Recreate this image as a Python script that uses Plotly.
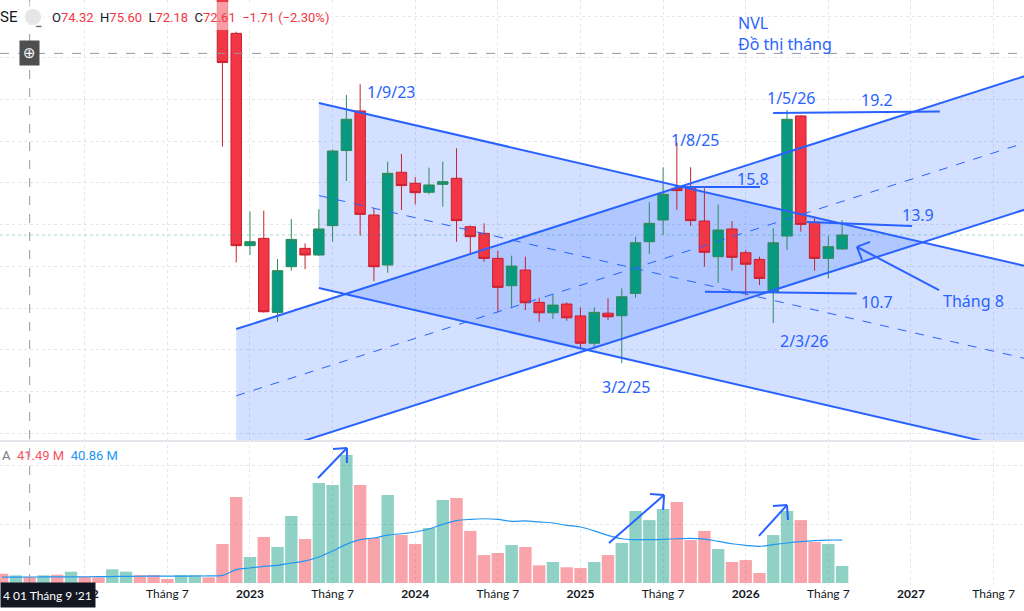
import plotly.graph_objects as go
import pandas as pd

# monthly bars, NVL
months = pd.period_range("2021-07", "2026-08", freq="M").strftime("%Y-%m").tolist()


def mi(m):
    # month label -> bar index (2021-07 = 0)
    y, mo = map(int, m.split("-"))
    return (y - 2021) * 12 + (mo - 7)


idx = [mi(m) for m in months]

first_candle = "2022-11"
opens = [34.00, 23.17, 12.99, 13.34, 9.79, 11.98, 12.86, 12.54, 13.95, 17.55, 19.45, 14.46,
         12.06, 16.51, 15.98, 15.55, 15.93, 16.22, 13.90, 13.58, 12.38, 11.07, 11.82, 10.27,
         9.77, 10.19, 9.62, 8.31, 9.75, 9.63, 10.70, 13.18, 14.22, 15.74, 15.82, 14.17,
         12.46, 13.79, 12.65, 12.33, 10.76, 13.45, 19.21, 14.11, 12.38, 12.83]
highs = [35.00, 23.25, 14.62, 14.67, 12.35, 14.27, 13.10, 14.73, 17.60, 20.22, 20.73, 14.78,
         17.02, 17.39, 16.27, 16.73, 17.02, 17.66, 13.95, 14.06, 12.75, 12.51, 12.46, 10.49,
         10.67, 10.27, 10.03, 10.03, 10.47, 10.94, 13.42, 15.07, 16.75, 17.93, 16.75, 15.74,
         14.97, 14.17, 12.78, 12.46, 13.82, 19.50, 19.25, 14.38, 13.45, 14.22]
lows = [17.74, 12.19, 12.54, 9.78, 9.34, 11.79, 11.86, 12.50, 13.18, 16.09, 13.47, 11.29,
        11.69, 14.70, 14.97, 15.45, 14.86, 13.18, 12.59, 12.22, 9.82, 10.06, 9.90, 9.34,
        9.47, 9.39, 8.07, 8.14, 9.42, 7.35, 10.49, 12.59, 13.50, 14.70, 13.93, 11.98,
        11.21, 11.79, 10.62, 11.10, 9.28, 12.78, 13.66, 11.79, 11.42, 12.80]
closes = [21.77, 12.99, 13.18, 9.82, 11.79, 13.29, 12.54, 13.79, 17.53, 19.05, 14.49, 11.98,
          16.46, 15.87, 15.53, 15.90, 16.06, 14.19, 13.42, 12.38, 10.99, 12.01, 10.25, 9.77,
          10.14, 9.53, 8.31, 9.79, 9.58, 10.54, 13.13, 14.06, 15.45, 15.63, 14.19, 12.67,
          13.74, 12.43, 12.10, 11.42, 13.13, 19.05, 14.01, 12.38, 12.94, 13.50]
candle_x = idx[mi(first_candle):]

# volume in millions of shares, one per month
volume = [63, 52, 41.49, 52, 56, 77, 43, 39, 93, 77, 54, 54, 27, 54, 54, 39,
          265, 585, 177, 313, 245, 456, 299, 680, 666, 870, 666, 306, 598, 326,
          265, 374, 564, 578, 354, 190, 204, 258, 245, 120, 143, 107, 102, 143,
          190, 272, 490, 428, 503, 551, 292, 354, 231, 143, 156, 68, 326, 490,
          428, 279, 265, 116]
vol_ma = [40, 40.5, 40.86, 41, 41.5, 42, 42.5, 43, 44, 45, 46, 46.5, 47, 47, 47.5, 48,
          52, 91, 102, 113, 120, 136, 150, 177, 218, 263, 295, 306, 326, 335,
          347, 367, 399, 424, 433, 437, 433, 419, 422, 415, 408, 392, 381, 354,
          324, 301, 295, 295, 297, 301, 304, 299, 283, 267, 256, 249, 261, 272,
          281, 288, 292, 292]
vol_up = [0, 1, 0, 1, 0, 1, 0, 0, 1, 1, 0, 0, 0, 1, 1, 0,
          0, 0, 1, 0, 1, 1, 0, 1, 1, 1, 0, 0, 1, 0,
          0, 1, 1, 0, 0, 0, 0, 1, 0, 0, 1, 0, 0, 1,
          0, 1, 1, 1, 1, 0, 0, 0, 1, 0, 0, 0, 1, 1,
          0, 0, 1, 1]

tick_months = ["2022-01", "2022-07", "2023-01", "2023-07", "2024-01", "2024-07",
               "2025-01", "2025-07", "2026-01", "2026-07", "2027-01", "2027-07"]
tick_text = ["<b>2022</b>", "Tháng 7", "<b>2023</b>", "Tháng 7", "<b>2024</b>", "Tháng 7",
             "<b>2025</b>", "Tháng 7", "<b>2026</b>", "Tháng 7", "<b>2027</b>", "Tháng 7"]

# drawings: channels given by start/end on the upper line plus height
desc_x = [23, 61]
desc_top = [19.83, 14.04]
desc_h = 8.87
asc_x = [17, 56]
asc_top = [8.99, 17.25]
asc_h = 6.4
extend_to = 76

# horizontal level lines (x0, p0, x1, p1)
level_x0 = [48.86, 55.99, 58.45, 51.04]
level_p0 = [15.80, 19.35, 14.12, 10.78]
level_x1 = [55.04, 68.10, 66.08, 62.06]
level_p1 = [15.80, 19.42, 13.93, 10.70]

labels = ["1/9/23", "1/8/25", "15.8", "1/5/26", "19.2", "13.9", "10.7", "Tháng 8", "2/3/26", "3/2/25"]
label_x = [28.24, 50.32, 54.53, 57.29, 63.53, 66.51, 63.53, 70.54, 58.27, 45.31]
label_p = [20.36, 18.06, 16.19, 20.07, 19.98, 14.46, 10.29, 10.34, 8.42, 6.21]

# arrow to "Tháng 8": tail, tip, two head ends
ptr_x = [68.04, 62.08, 63.03, 62.45]
ptr_p = [10.86, 12.93, 13.17, 12.30]

# hand-drawn arrows on volume: tail, tip, left head end, lower head end
varrow_x = [[22.94, 25.04, 24.03, 25.04], [44.07, 48.07, 47.05, 48.00], [54.96, 57.00, 55.98, 57.07]]
varrow_v = [[714, 918, 911, 816], [272, 598, 605, 496], [320, 530, 524, 428]]

cross_month = "2021-09"
cross_price = 22.21

BLUE = "#2962FF"
FILL = "rgba(41,98,255,0.2)"
GRID = "#e4e6ec"
PLOT_H = 585  # plot area height in px


def py(px):
    # pixel row -> paper y
    return (PLOT_H - px) / PLOT_H


fig = go.Figure()
shapes = []


def add_channel(xs, tops, h):
    slope = (tops[1] - tops[0]) / (xs[1] - xs[0])
    xe = extend_to
    te = tops[0] + slope * (xe - xs[0])
    path = "M %g,%g L %g,%g L %g,%g L %g,%g Z" % (xs[0], tops[0], xe, te, xe, te - h, xs[0], tops[0] - h)
    shapes.append(dict(type="path", xref="x", yref="y", path=path, fillcolor=FILL,
                       line=dict(width=0), layer="between"))
    for off, dash, w in [(0, "solid", 2), (h, "solid", 2), (h / 2, "dash", 1)]:
        fig.add_trace(go.Scatter(x=[xs[0], xe], y=[tops[0] - off, te - off], mode="lines",
                                 line=dict(color=BLUE, width=w, dash=dash), hoverinfo="skip"))


add_channel(desc_x, desc_top, desc_h)
add_channel(asc_x, asc_top, asc_h)

fig.add_trace(go.Candlestick(
    x=candle_x, open=opens, high=highs, low=lows, close=closes,
    increasing=dict(line=dict(color="#2f8a5c", width=1), fillcolor="#089981"),
    decreasing=dict(line=dict(color="#c9202f", width=1), fillcolor="#F23645"),
    whiskerwidth=0, xaxis="x", yaxis="y"))

fig.add_trace(go.Bar(
    x=idx, y=volume, xaxis="x", yaxis="y2",
    marker=dict(color=["rgba(8,153,129,0.45)" if u else "rgba(242,54,69,0.45)" for u in vol_up],
                line=dict(width=0))))
fig.add_trace(go.Scatter(x=idx, y=vol_ma, mode="lines", xaxis="x", yaxis="y2",
                         line=dict(color="#2196F3", width=1.2, shape="spline")))

for x0, p0, x1, p1 in zip(level_x0, level_p0, level_x1, level_p1):
    shapes.append(dict(type="line", xref="x", yref="y", x0=x0, y0=p0, x1=x1, y1=p1,
                       line=dict(color=BLUE, width=2)))
for a, b in [(0, 1), (1, 2), (1, 3)]:
    shapes.append(dict(type="line", xref="x", yref="y", x0=ptr_x[a], y0=ptr_p[a], x1=ptr_x[b], y1=ptr_p[b],
                       line=dict(color=BLUE, width=2)))
for ax, av in zip(varrow_x, varrow_v):
    for a, b in [(0, 1), (1, 2), (1, 3)]:
        shapes.append(dict(type="line", xref="x", yref="y2", x0=ax[a], y0=av[a], x1=ax[b], y1=av[b],
                           line=dict(color=BLUE, width=2)))

# crosshair
shapes.append(dict(type="line", xref="x", yref="paper", x0=mi(cross_month), x1=mi(cross_month),
                   y0=py(583), y1=1, line=dict(color="#9598a1", width=1, dash="dash")))
shapes.append(dict(type="line", xref="paper", yref="y", x0=0, x1=1, y0=cross_price, y1=cross_price,
                   line=dict(color="#9598a1", width=1, dash="dash")))
# last price line
shapes.append(dict(type="line", xref="paper", yref="y", x0=0, x1=1, y0=closes[-1], y1=closes[-1],
                   line=dict(color="rgba(8,153,129,0.35)", width=1, dash="dot")))
# pane separator
shapes.append(dict(type="line", xref="paper", yref="paper", x0=0, x1=1, y0=py(441), y1=py(441),
                   line=dict(color=GRID, width=2)))
# legend backdrop
shapes.append(dict(type="rect", xref="paper", yref="paper", x0=0, x1=335 / 1024, y0=py(30), y1=py(2),
                   fillcolor="rgba(255,255,255,0.5)", line=dict(width=0), layer="above"))
# collapse button circle
shapes.append(dict(type="circle", xref="paper", yref="paper", x0=25 / 1024, x1=41 / 1024,
                   y0=py(25), y1=py(9), fillcolor="#e6e6e6", line=dict(width=0), layer="above"))

ann = []
for t, x, p in zip(labels, label_x, label_p):
    ann.append(dict(text=t, x=x, y=p, xref="x", yref="y", showarrow=False,
                    font=dict(family="Noto Sans", size=16, color=BLUE)))
ann.append(dict(text="NVL<br>Đồ thị tháng", x=736 / 1024, y=py(10), xref="paper", yref="paper",
                xanchor="left", yanchor="top", align="left", showarrow=False,
                font=dict(family="Noto Sans", size=16, color=BLUE)))

red = "#F23645"
hdr = ("O<span style='color:%s'>74.32</span>  H<span style='color:%s'>75.60</span>  "
       "L<span style='color:%s'>72.18</span>  C<span style='color:%s'>72.61</span>  "
       "<span style='color:%s'>−1.71 (−2.30%%)</span>") % (red, red, red, red, red)
ann.append(dict(text=hdr, x=50 / 1024, y=py(17), xref="paper", yref="paper", xanchor="left",
                yanchor="middle", showarrow=False, font=dict(family="Roboto", size=13, color="#131722")))
ann.append(dict(text="SE", x=-2 / 1024, y=py(17), xref="paper", yref="paper", xanchor="left",
                yanchor="middle", showarrow=False, font=dict(family="Roboto", size=15, color="#131722")))
ann.append(dict(text="<b>−</b>", x=33 / 1024, y=py(17), xref="paper", yref="paper",
                showarrow=False, font=dict(family="Roboto", size=13, color="#6a6d78")))
ann.append(dict(text="A  <span style='color:#F7525F'>41.49 M</span>  <span style='color:#2196F3'>40.86 M</span>",
                x=0, y=py(455), xref="paper", yref="paper", xanchor="left", yanchor="middle",
                showarrow=False, font=dict(family="Roboto", size=13, color="#787b86")))
ann.append(dict(text="⊕", x=mi(cross_month), y=cross_price, xref="x", yref="y", showarrow=False,
                bgcolor="#4f4f4f", borderpad=3, font=dict(family="DejaVu Sans", size=15, color="white")))
ann.append(dict(text="4 01 Tháng 9 '21", x=0, y=py(595), xref="paper", yref="paper", xanchor="left",
                yanchor="middle", align="left", width=90, height=20, borderpad=2, showarrow=False,
                bgcolor="#131722", font=dict(family="Lato", size=12, color="white")))

fig.update_layout(
    width=1024, height=611, margin=dict(l=0, r=0, t=0, b=26),
    paper_bgcolor="white", plot_bgcolor="white", showlegend=False,
    boxgap=0.24, boxgroupgap=0, bargap=0.1, shapes=shapes, annotations=ann,
    xaxis=dict(range=[-0.155, 74.21], tickvals=[mi(m) for m in tick_months], ticktext=tick_text,
               showgrid=True, gridcolor=GRID, griddash="dot", zeroline=False, showline=False,
               ticks="", anchor="y2", rangeslider=dict(visible=False),
               tickfont=dict(family="Lato", size=12, color="#131722")),
    yaxis=dict(domain=[py(440), 1], range=[3.67, 24.77], tick0=0, dtick=2, showticklabels=False,
               showgrid=True, gridcolor=GRID, griddash="dot", zeroline=False),
    yaxis2=dict(domain=[0, py(445)], range=[-13.6, 938.4], tickvals=[400, 800], showticklabels=False,
                showgrid=True, gridcolor=GRID, griddash="dot", zeroline=False),
)

fig.write_html("out.html", config={"displayModeBar": False},
               post_script="document.body.style.margin='0';")
